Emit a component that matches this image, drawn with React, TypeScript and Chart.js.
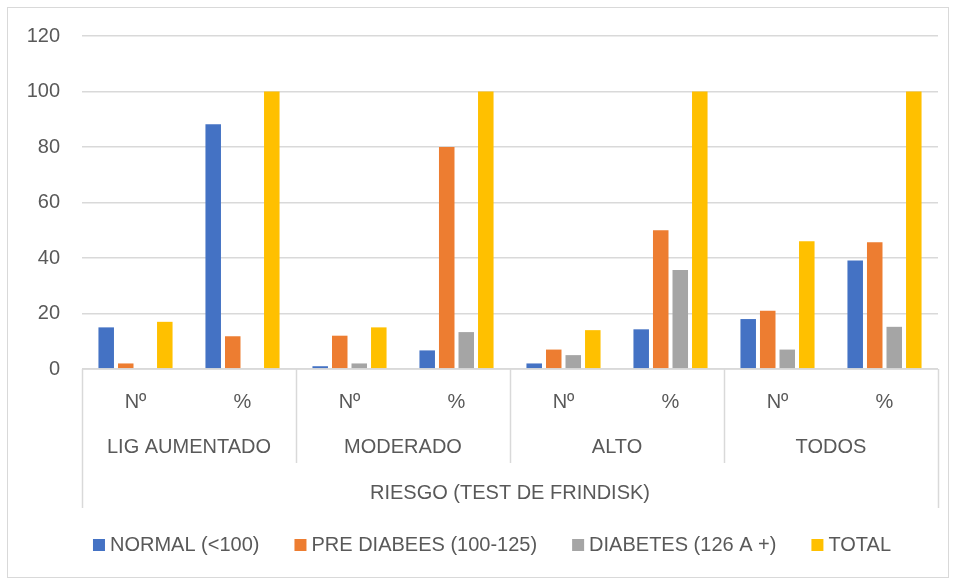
import React, { useEffect, useRef } from "react";
import { Chart, registerables } from "chart.js";

Chart.register(...registerables);

// Category hierarchy for the x axis
const groups = ["LIG AUMENTADO", "MODERADO", "ALTO", "TODOS"];
const measures = ["Nº", "%"];
const axisTitle = "RIESGO (TEST DE FRINDISK)";

// Series
const seriesNames = ["NORMAL (<100)", "PRE DIABEES (100-125)", "DIABETES (126 A +)", "TOTAL"];
const normal = [15, 88.2, 1, 6.7, 2, 14.3, 18, 39.1];
const preDiabetes = [2, 11.8, 12, 80, 7, 50, 21, 45.7];
const diabetes = [0, 0, 2, 13.3, 5, 35.7, 7, 15.2];
const total = [17, 100, 15, 100, 14, 100, 46, 100];
const seriesColors = ["#4472C4", "#ED7D31", "#A5A5A5", "#FFC000"];

// Value axis
const yMin = 0;
const yMax = 120;
const yStep = 20;

const FONT_FAMILY = '"Liberation Sans", Arial, sans-serif';
const TEXT = "#595959";
const LINE = "#d9d9d9";

const categories = groups.flatMap((g) => measures.map((m) => `${g} ${m}`));

const multiLevelAxis = {
  id: "multiLevelAxis",
  beforeDraw(chart: any) {
    const { ctx, width, height } = chart;
    ctx.save();
    ctx.fillStyle = "#ffffff";
    ctx.fillRect(0, 0, width, height);
    ctx.strokeStyle = LINE;
    ctx.lineWidth = 1;
    ctx.strokeRect(7.5, 7.5, width - 15, height - 11);
    ctx.restore();
  },
  afterDraw(chart: any) {
    const { ctx, chartArea: a } = chart;
    const x = chart.scales.x;
    ctx.save();
    ctx.strokeStyle = LINE;
    ctx.lineWidth = 1.5;

    // axis line
    ctx.beginPath();
    ctx.moveTo(a.left, a.bottom);
    ctx.lineTo(a.right, a.bottom);
    ctx.stroke();

    // group boundaries
    const edges: number[] = [];
    for (let k = 0; k <= groups.length; k++) {
      if (k === 0) edges.push(a.left);
      else if (k === groups.length) edges.push(a.right);
      else {
        const i = k * measures.length;
        edges.push((x.getPixelForValue(i - 1) + x.getPixelForValue(i)) / 2);
      }
    }
    edges.forEach((ex, k) => {
      const outer = k === 0 || k === groups.length;
      const px = Math.round(ex) + 0.5;
      ctx.beginPath();
      ctx.moveTo(px, a.bottom);
      ctx.lineTo(px, a.bottom + (outer ? 139 : 94));
      ctx.stroke();
    });

    ctx.fillStyle = TEXT;
    ctx.font = `20px ${FONT_FAMILY}`;
    ctx.textAlign = "center";
    ctx.textBaseline = "middle";

    // measure row
    categories.forEach((_, i) => {
      ctx.fillText(measures[i % measures.length], x.getPixelForValue(i), a.bottom + 33);
    });
    // group row
    groups.forEach((g, k) => {
      ctx.fillText(g, (edges[k] + edges[k + 1]) / 2, a.bottom + 78);
    });
    // axis title row
    ctx.fillText(axisTitle, (a.left + a.right) / 2, a.bottom + 124);

    // legend
    const box = 12;
    const gap = 5;
    const spacing = 35;
    const widths = seriesNames.map((n) => ctx.measureText(n).width);
    const totalW = widths.reduce((s, w) => s + box + gap + w, 0) + spacing * (seriesNames.length - 1);
    let lx = (a.left + a.right) / 2 - 18 - totalW / 2;
    const ly = a.bottom + 176;
    ctx.textAlign = "left";
    seriesNames.forEach((n, i) => {
      ctx.fillStyle = seriesColors[i];
      ctx.fillRect(lx, ly - box / 2, box, box);
      ctx.fillStyle = TEXT;
      ctx.fillText(n, lx + box + gap, ly);
      lx += box + gap + widths[i] + spacing;
    });
    ctx.restore();
  },
};

export default function App() {
  const ref = useRef<HTMLCanvasElement>(null);

  useEffect(() => {
    if (!ref.current) return;
    const values = [normal, preDiabetes, diabetes, total];
    const chart = new Chart(ref.current, {
      type: "bar",
      data: {
        labels: categories,
        datasets: seriesNames.map((name, i) => ({
          label: name,
          data: values[i],
          backgroundColor: seriesColors[i],
          borderWidth: 0,
          categoryPercentage: 0.73,
          barPercentage: 0.795,
        })),
      },
      options: {
        animation: false,
        responsive: true,
        maintainAspectRatio: false,
        layout: { padding: { top: 36, right: 18, left: 0, bottom: 0 } },
        plugins: {
          legend: { display: false },
          tooltip: { enabled: false },
        },
        scales: {
          x: {
            grid: { display: false },
            border: { display: false },
            ticks: { display: false },
            afterFit: (scale: any) => {
              scale.height = 212;
            },
          },
          y: {
            min: yMin,
            max: yMax,
            ticks: {
              stepSize: yStep,
              padding: 22,
              color: TEXT,
              font: { family: FONT_FAMILY, size: 20 },
            },
            grid: { color: LINE, lineWidth: 1.5, drawTicks: false },
            border: { display: false },
            afterFit: (scale: any) => {
              scale.width = 82;
            },
          },
        },
      },
      plugins: [multiLevelAxis],
    });
    return () => chart.destroy();
  }, []);

  return (
    <div style={{ position: "absolute", left: 0, top: 0, width: 956, height: 581, background: "#fff" }}>
      <canvas ref={ref} />
    </div>
  );
}
